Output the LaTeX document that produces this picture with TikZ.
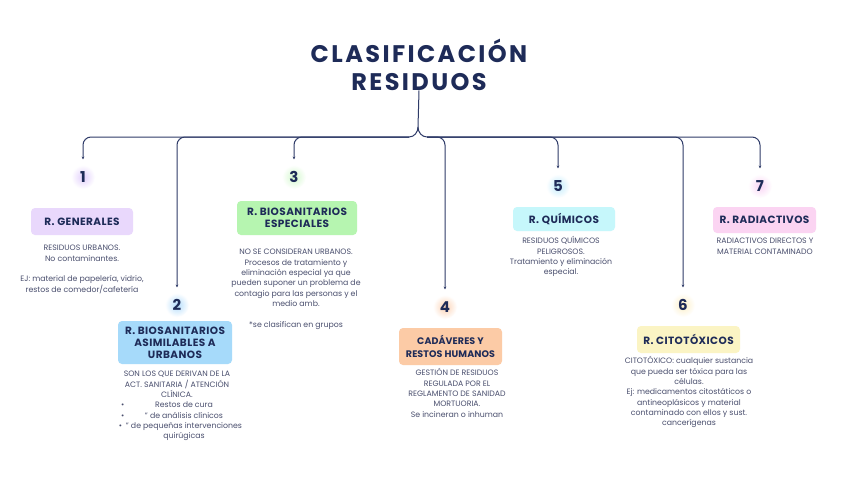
\documentclass[tikz,border=0pt]{standalone}
\usepackage{fontspec}
\setmainfont{Poppins}
\newfontfamily\titlefont[LetterSpace=10]{Poppins}
\newfontfamily\headfont[LetterSpace=4]{Poppins}
\newfontfamily\headwidefont[LetterSpace=1]{Poppins}
\usetikzlibrary{arrows.meta,backgrounds}
\newcommand\topstrut{\rule{0pt}{7.5pt}}
\definecolor{navy}{HTML}{1E2B58}
\definecolor{conncol}{HTML}{2F3B68}
\definecolor{bodycol}{HTML}{4A4F6E}
\definecolor{cpurple}{HTML}{E9D8FC}
\definecolor{cblue}{HTML}{A6DAFA}
\definecolor{cgreen}{HTML}{B6F5B0}
\definecolor{cpeach}{HTML}{FCCBA6}
\definecolor{ccyan}{HTML}{C6F7FB}
\definecolor{cyellow}{HTML}{FBF4C4}
\definecolor{cpink}{HTML}{FBD4F2}
\definecolor{gpurple}{HTML}{E2CFFC}
\definecolor{gblue}{HTML}{B4DDFC}
\definecolor{ggreen}{HTML}{D2F8CC}
\definecolor{gorange}{HTML}{FCD2B4}
\definecolor{gcyan}{HTML}{C0EBFC}
\definecolor{gyellow}{HTML}{FCEFC6}
\definecolor{gpink}{HTML}{F9D4F4}
\tikzset{
  conn/.style={draw=conncol, line width=1pt, rounded corners=8pt, -{Stealth[length=2.6pt,width=2.6pt]}},
  stem/.style={draw=conncol, line width=1pt},
  num/.style={circle, minimum size=35pt, inner sep=0pt, text=navy, font=\fontsize{15}{15}\selectfont\bfseries},
  headbox/.style={rounded corners=4pt, inner sep=0pt, align=center, text=navy, font=\headfont\fontsize{10.5}{12}\selectfont\bfseries},
  bodytext/.style={anchor=north, inner sep=0pt, align=center, text=bodycol, font=\fontsize{7.8}{10.3}\selectfont},
  glow/.style={inner color=#1, outer color=white}
}
\begin{document}
\begin{tikzpicture}[x=1pt,y=-1pt]
\useasboundingbox (0,0) rectangle (848,477);

% title
\node[text=navy, align=center, inner sep=0pt, font=\titlefont\fontsize{24}{28}\selectfont\bfseries] (title) at (419,64.5) {CLASIFICACIÓN\\RESIDUOS};
\coordinate (hub) at (418,127);
\coordinate (jl) at (409,137);
\coordinate (jr) at (427,137);

% numbers
\node[num] (n1) at (83,177) {1};
\node[num] (n2) at (177,305) {2};
\node[num] (n3) at (294,177) {3};
\node[num] (n4) at (445,307) {4};
\node[num] (n5) at (558,186) {5};
\node[num] (n6) at (683,305) {6};
\node[num] (n7) at (760,186) {7};

\begin{scope}[on background layer]
\fill[white] (0,0) rectangle (848,477);
\shade[glow=gpurple] (n1) circle (12pt);
\shade[glow=gblue] (n2) circle (12pt);
\shade[glow=ggreen] (n3) circle (12pt);
\shade[glow=gorange] (n4) circle (12pt);
\shade[glow=gcyan] (n5) circle (12pt);
\shade[glow=gyellow] (n6) circle (12pt);
\shade[glow=gpink] (n7) circle (12pt);
\end{scope}

% connectors
\draw[stem] (title.south) -- (hub);
\draw[stem] (hub) to[out=-90,in=0] (jl);
\draw[stem] (hub) to[out=-90,in=180] (jr);
\draw[conn] (jl) -| (n1.north);
\draw[conn] (jl) -| (n2.north);
\draw[conn] (jl) -| (n3.north);
\draw[conn] (jr) -| (n4.north);
\draw[conn] (jr) -| (n5.north);
\draw[conn] (jr) -| (n6.north);
\draw[conn] (jr) -| (n7.north);

% heading boxes
\node[headbox, fill=cpurple, minimum width=102pt, minimum height=27pt] (b1) at (82,221.5) {R. GENERALES};
\node[headbox, fill=cblue, minimum width=114pt, minimum height=43pt] (b2) at (175,342.5) {R. BIOSANITARIOS\\ASIMILABLES A\\URBANOS};
\node[headbox, fill=cgreen, minimum width=120pt, minimum height=34pt] (b3) at (297,218) {R. BIOSANITARIOS\\ESPECIALES};
\node[headbox, fill=cpeach, minimum width=103pt, minimum height=37pt, font=\headwidefont\fontsize{9.5}{12.8}\selectfont\bfseries] (b4) at (450.5,346.5) {CADÁVERES Y\\RESTOS HUMANOS};
\node[headbox, fill=ccyan, minimum width=102pt, minimum height=24pt] (b5) at (564,219) {R. QUÍMICOS};
\node[headbox, fill=cyellow, minimum width=103pt, minimum height=27pt] (b6) at (688.5,339.5) {R. CITOTÓXICOS};
\node[headbox, fill=cpink, minimum width=103pt, minimum height=26pt] (b7) at (764.5,220) {R. RADIACTIVOS};

% body texts
\node[bodytext] (t1) at (82,243.2) {\topstrut RESIDUOS URBANOS.\\No contaminantes.\\[10.3pt]EJ: material de papelería, vidrio,\\restos de comedor/cafetería};
\node[bodytext] (t2) at (177,369.2) {\topstrut SON LOS QUE DERIVAN DE LA\\ACT. SANITARIA / ATENCIÓN\\CLÍNICA.\\
\makebox[126pt]{\hspace*{7pt}\rlap{\textbullet}\hspace*{7pt}\hfill Restos de cura\hfill}\\
\makebox[126pt]{\hspace*{7pt}\rlap{\textbullet}\hspace*{7pt}\hfill " de análisis clínicos\hfill}\\
\makebox[126pt]{\hspace*{7pt}\rlap{\textbullet}\hspace*{7pt}\hfill " de pequeñas intervenciones\hfill}\\
\makebox[126pt]{\hspace*{14pt}\hfill quirúgicas\hfill}};
\node[bodytext] (t3) at (296,247.2) {\topstrut NO SE CONSIDERAN URBANOS.\\Procesos de tratamiento y\\eliminación especial ya que\\pueden suponer un problema de\\contagio para las personas y el\\medio amb.\\[10.3pt]*se clasifican en grupos};
\node[bodytext] (t4) at (457,368.2) {\topstrut GESTIÓN DE RESIDUOS\\REGULADA POR EL\\REGLAMENTO DE SANIDAD\\MORTUORIA.\\Se incineran o inhuman};
\node[bodytext] (t5) at (561,236.2) {\topstrut RESIDUOS QUÍMICOS\\PELIGROSOS.\\Tratamiento y eliminación\\especial.};
\node[bodytext] (t6) at (689,356.2) {\topstrut CITOTÓXICO: cualquier sustancia\\que pueda ser tóxica para las\\células.\\Ej: medicamentos citostáticos o\\antineoplásicos y material\\contaminado con ellos y sust.\\cancerígenas};
\node[bodytext] (t7) at (765,236.2) {\topstrut RADIACTIVOS DIRECTOS Y\\MATERIAL CONTAMINADO};
\end{tikzpicture}
\end{document}
